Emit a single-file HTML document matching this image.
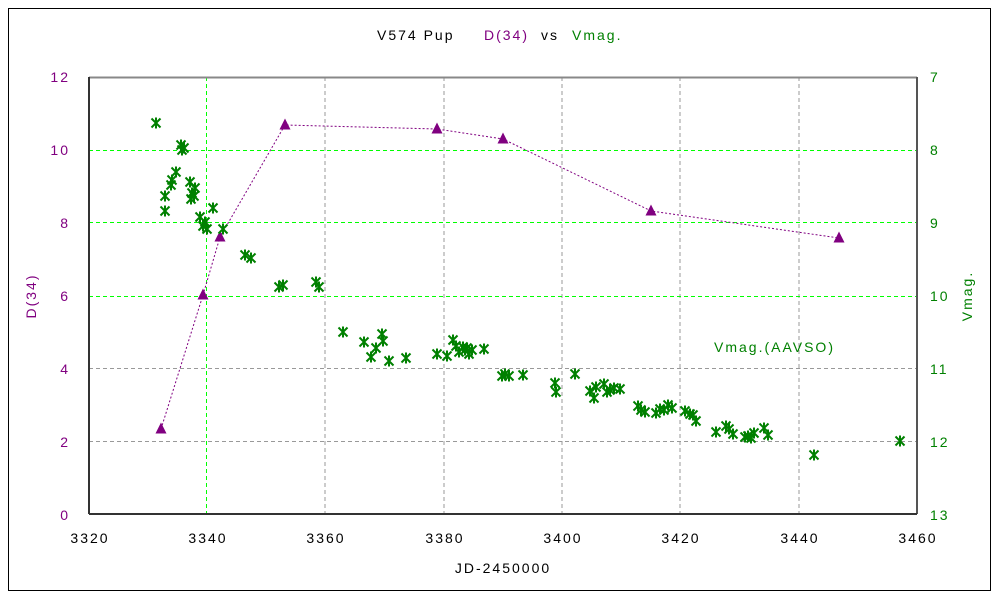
<!DOCTYPE html><html><head><style>body{margin:0;background:#fff}svg text{font-family:"Liberation Sans",sans-serif;font-size:14px;letter-spacing:2px}</style></head><body>
<svg width="1000" height="600" xmlns="http://www.w3.org/2000/svg" xmlns:xlink="http://www.w3.org/1999/xlink">
<defs>
<path id="s" d="M-4.5 -4.5L4.5 4.5M4.5 -4.5L-4.5 4.5M0 -5.5V5.5" stroke="#008000" stroke-width="2" fill="none"/>
<polygon id="t" points="0,-6.5 -5.5,4.5 5.5,4.5" fill="#800080"/>
</defs>
<rect x="8.5" y="8.5" width="982" height="582" fill="#fff" stroke="#000"/>
<text x="377" y="40" fill="#000">V574 Pup</text><text x="484" y="40" fill="#800080">D(34)</text><text x="541" y="40" fill="#000">vs</text><text x="572" y="40" fill="#008000">Vmag.</text>
<g stroke-dasharray="4,3" stroke-width="1">
<g stroke="#999"><line x1="325" y1="77" x2="325" y2="514"/><line x1="444" y1="77" x2="444" y2="514"/><line x1="562" y1="77" x2="562" y2="514"/><line x1="680" y1="77" x2="680" y2="514"/><line x1="799" y1="77" x2="799" y2="514"/><line x1="89" y1="368.5" x2="917" y2="368.5"/><line x1="89" y1="441.5" x2="917" y2="441.5"/></g>
<g stroke="#00ff00"><line x1="206.5" y1="77" x2="206.5" y2="514"/><line x1="89" y1="150.5" x2="917" y2="150.5"/><line x1="89" y1="222.5" x2="917" y2="222.5"/><line x1="89" y1="296.5" x2="917" y2="296.5"/></g>
</g>
<line x1="89" y1="77.5" x2="917" y2="77.5" stroke="#888" stroke-width="2"/>
<line x1="917" y1="77" x2="917" y2="514" stroke="#555" stroke-width="2"/>
<line x1="89" y1="77" x2="89" y2="514" stroke="#333" stroke-width="2"/>
<line x1="89" y1="514" x2="917" y2="514" stroke="#333" stroke-width="2"/>
<g fill="#800080" text-anchor="end"><text x="70" y="82">12</text><text x="70" y="155">10</text><text x="70" y="228">8</text><text x="70" y="301">6</text><text x="70" y="374">4</text><text x="70" y="447">2</text><text x="70" y="520">0</text></g>
<g fill="#008000"><text x="930" y="82">7</text><text x="930" y="155">8</text><text x="930" y="228">9</text><text x="930" y="301">10</text><text x="930" y="374">11</text><text x="930" y="447">12</text><text x="930" y="520">13</text></g>
<g fill="#000" text-anchor="middle"><text x="90" y="543">3320</text><text x="208" y="543">3340</text><text x="326" y="543">3360</text><text x="445" y="543">3380</text><text x="563" y="543">3400</text><text x="681" y="543">3420</text><text x="800" y="543">3440</text><text x="918" y="543">3460</text><text x="503" y="573">JD-2450000</text></g>
<text transform="translate(36,296) rotate(-90)" fill="#800080" text-anchor="middle">D(34)</text>
<text transform="translate(972,296) rotate(-90)" fill="#008000" text-anchor="middle">Vmag.</text>
<text x="714" y="352" fill="#008000">Vmag.(AAVSO)</text>
<polyline points="161,429 203,295 220,237 285,125 437,129 503,139 651,211 839,238" fill="none" stroke="#800080" stroke-dasharray="2,2"/>
<use xlink:href="#t" x="161" y="429"/><use xlink:href="#t" x="203" y="295"/><use xlink:href="#t" x="220" y="237"/><use xlink:href="#t" x="285" y="125"/><use xlink:href="#t" x="437" y="129"/><use xlink:href="#t" x="503" y="139"/><use xlink:href="#t" x="651" y="211"/><use xlink:href="#t" x="839" y="238"/>
<use xlink:href="#s" x="156" y="123"/><use xlink:href="#s" x="165" y="196"/><use xlink:href="#s" x="165" y="211"/><use xlink:href="#s" x="171" y="185"/><use xlink:href="#s" x="172" y="180"/><use xlink:href="#s" x="176" y="172"/><use xlink:href="#s" x="181" y="145"/><use xlink:href="#s" x="182" y="150"/><use xlink:href="#s" x="184" y="148"/><use xlink:href="#s" x="190" y="182"/><use xlink:href="#s" x="191" y="199"/><use xlink:href="#s" x="192" y="193"/><use xlink:href="#s" x="194" y="196"/><use xlink:href="#s" x="195" y="188"/><use xlink:href="#s" x="200" y="217"/><use xlink:href="#s" x="203" y="226"/><use xlink:href="#s" x="205" y="222"/><use xlink:href="#s" x="207" y="229"/><use xlink:href="#s" x="213" y="208"/><use xlink:href="#s" x="223" y="229"/><use xlink:href="#s" x="245" y="255"/><use xlink:href="#s" x="251" y="258"/><use xlink:href="#s" x="279" y="287"/><use xlink:href="#s" x="283" y="285"/><use xlink:href="#s" x="316" y="282"/><use xlink:href="#s" x="319" y="287"/><use xlink:href="#s" x="343" y="332"/><use xlink:href="#s" x="364" y="342"/><use xlink:href="#s" x="371" y="357"/><use xlink:href="#s" x="376" y="348"/><use xlink:href="#s" x="382" y="334"/><use xlink:href="#s" x="383" y="341"/><use xlink:href="#s" x="389" y="361"/><use xlink:href="#s" x="406" y="358"/><use xlink:href="#s" x="437" y="354"/><use xlink:href="#s" x="447" y="356"/><use xlink:href="#s" x="453" y="340"/><use xlink:href="#s" x="456" y="346"/><use xlink:href="#s" x="459" y="352"/><use xlink:href="#s" x="463" y="347"/><use xlink:href="#s" x="465" y="350"/><use xlink:href="#s" x="467" y="348"/><use xlink:href="#s" x="469" y="354"/><use xlink:href="#s" x="472" y="350"/><use xlink:href="#s" x="484" y="349"/><use xlink:href="#s" x="502" y="376"/><use xlink:href="#s" x="505" y="374"/><use xlink:href="#s" x="509" y="376"/><use xlink:href="#s" x="523" y="375"/><use xlink:href="#s" x="555" y="383"/><use xlink:href="#s" x="556" y="392"/><use xlink:href="#s" x="575" y="374"/><use xlink:href="#s" x="590" y="391"/><use xlink:href="#s" x="594" y="398"/><use xlink:href="#s" x="596" y="387"/><use xlink:href="#s" x="604" y="384"/><use xlink:href="#s" x="607" y="392"/><use xlink:href="#s" x="610" y="390"/><use xlink:href="#s" x="614" y="388"/><use xlink:href="#s" x="620" y="389"/><use xlink:href="#s" x="638" y="406"/><use xlink:href="#s" x="641" y="410"/><use xlink:href="#s" x="645" y="412"/><use xlink:href="#s" x="656" y="413"/><use xlink:href="#s" x="660" y="409"/><use xlink:href="#s" x="664" y="410"/><use xlink:href="#s" x="668" y="405"/><use xlink:href="#s" x="672" y="408"/><use xlink:href="#s" x="685" y="411"/><use xlink:href="#s" x="690" y="414"/><use xlink:href="#s" x="693" y="415"/><use xlink:href="#s" x="696" y="421"/><use xlink:href="#s" x="716" y="432"/><use xlink:href="#s" x="726" y="426"/><use xlink:href="#s" x="729" y="429"/><use xlink:href="#s" x="733" y="434"/><use xlink:href="#s" x="745" y="437"/><use xlink:href="#s" x="748" y="436"/><use xlink:href="#s" x="751" y="438"/><use xlink:href="#s" x="754" y="433"/><use xlink:href="#s" x="764" y="428"/><use xlink:href="#s" x="768" y="435"/><use xlink:href="#s" x="814" y="455"/><use xlink:href="#s" x="900" y="441"/>
</svg></body></html>
